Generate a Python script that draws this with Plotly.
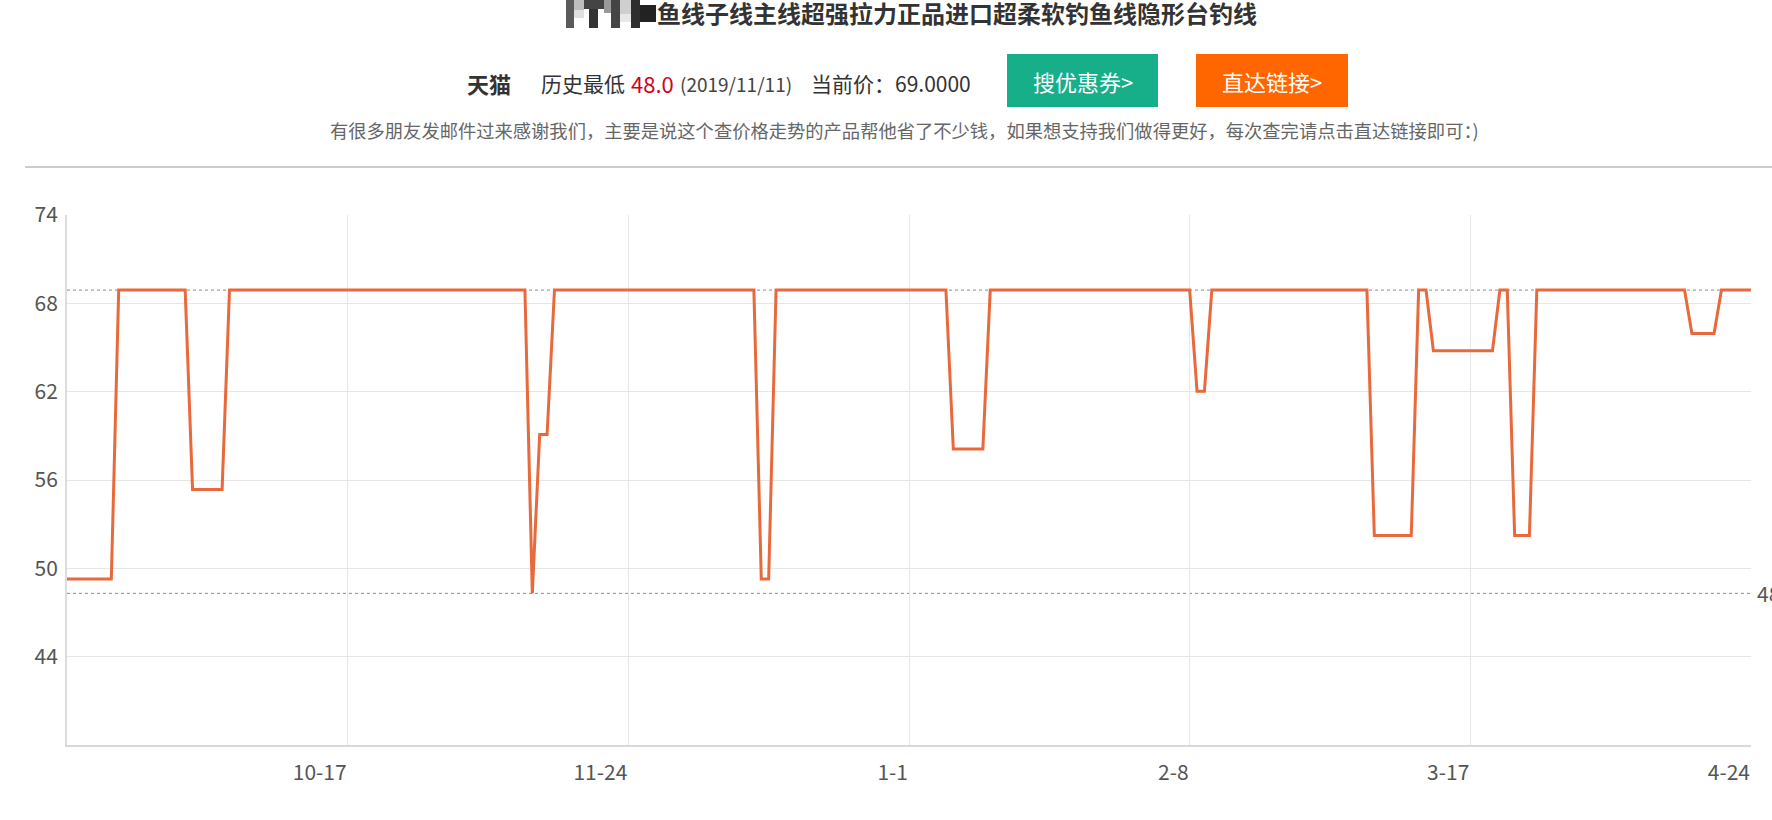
import pandas as pd
import plotly.graph_objects as go

# ---------------- data ----------------
start_date = "2019-09-09"
price_sep = [49, 49, 49, 49, 49, 49, 49,
             69, 69, 69, 69, 69, 69, 69, 69, 69, 69,
             55.2, 55.2, 55.2, 55.2, 55.2]
price_oct = [69, 69, 69, 69, 69, 69, 69, 69, 69, 69, 69, 69, 69, 69, 69, 69,
             69, 69, 69, 69, 69, 69, 69, 69, 69, 69, 69, 69, 69, 69, 69]
price_nov = [69, 69, 69, 69, 69, 69, 69, 69, 69, 69,
             48, 59, 59,
             69, 69, 69, 69, 69, 69, 69, 69, 69, 69, 69, 69, 69, 69, 69, 69, 69]
price_dec = [69, 69, 69, 69, 69, 69, 69, 69, 69, 69, 69,
             49, 49,
             69, 69, 69, 69, 69, 69, 69, 69, 69, 69, 69, 69, 69, 69, 69, 69, 69, 69]
price_jan = [69, 69, 69, 69, 69, 69,
             58, 58, 58, 58, 58,
             69, 69, 69, 69, 69, 69, 69, 69, 69, 69, 69, 69, 69, 69, 69, 69, 69, 69, 69, 69]
price_feb = [69, 69, 69, 69, 69, 69, 69, 69,
             62, 62,
             69, 69, 69, 69, 69, 69, 69, 69, 69, 69, 69, 69, 69, 69, 69, 69, 69, 69, 69]
price_mar = [69, 69, 69,
             52, 52, 52, 52, 52, 52,
             69, 69,
             64.8, 64.8, 64.8, 64.8, 64.8, 64.8, 64.8, 64.8, 64.8,
             69, 69,
             52, 52, 52,
             69, 69, 69, 69, 69, 69]
price_apr = [69, 69, 69, 69, 69, 69, 69, 69, 69, 69, 69, 69, 69, 69, 69,
             66, 66, 66, 66,
             69, 69, 69, 69, 69]

prices = price_sep + price_oct + price_nov + price_dec + price_jan + price_feb + price_mar + price_apr
dates = pd.date_range(start_date, periods=len(prices), freq="D")

x_tick_dates = ["2019-10-17", "2019-11-24", "2020-01-01", "2020-02-08", "2020-03-17", "2020-04-24"]
x_tick_labels = ["10-17", "11-24", "1-1", "2-8", "3-17", "4-24"]

y_min, y_max = 37.5, 74.2
y_tick_labels = ["44", "50", "56", "62", "68", "74"]

low_price = 48
high_price = 69

title_text = "鱼线子线主线超强拉力正品进口超柔软钓鱼线隐形台钓线"
shop = "天猫"
low_label = "历史最低"
low_value = "48.0"
low_date = "(2019/11/11)"
current_text = "当前价：69.0000"
btn1 = "搜优惠券>"
btn2 = "直达链接>"
note = "有很多朋友发邮件过来感谢我们，主要是说这个查价格走势的产品帮他省了不少钱，如果想支持我们做得更好，每次查完请点击直达链接即可：)"

# ---------------- layout helpers ----------------
W, H = 1772, 820
ML, MR, MT, MB = 67, 21, 215, 75
PW = W - ML - MR
PH = H - MT - MB
FONT = "Noto Sans CJK SC, Noto Sans, sans-serif"


def px(x):
    return (x - ML) / PW


def py(y):
    return (H - MB - y) / PH


step = (y_max - y_min) / 6
y_tick_vals = [y_min + step * (k + 1) for k in range(6)]

fig = go.Figure()
fig.add_trace(go.Scatter(
    x=dates, y=prices, mode="lines",
    line=dict(color="#e8693b", width=3),
    hoverinfo="x+y", showlegend=False,
))

# reference lines for max / min
for v in (high_price, low_price):
    fig.add_shape(type="line", xref="paper", x0=0, x1=1, yref="y", y0=v, y1=v,
                  line=dict(color="#8c8c8c", width=1, dash="3px,3px"), layer="below")

fig.add_annotation(x=1, xref="paper", y=low_price, yref="y", text=str(low_price),
                   showarrow=False, xanchor="left", yanchor="middle", xshift=4,
                   font=dict(size=21, color="#555", family=FONT))

shapes = []
# separator line
shapes.append(dict(type="line", xref="paper", yref="paper", x0=px(25), x1=px(1772),
                   y0=py(167), y1=py(167), line=dict(color="#cccccc", width=2)))
# buttons
shapes.append(dict(type="rect", xref="paper", yref="paper", x0=px(1007), x1=px(1158),
                   y0=py(107), y1=py(54), fillcolor="#17ae8a", line=dict(width=0)))
shapes.append(dict(type="rect", xref="paper", yref="paper", x0=px(1196), x1=px(1348),
                   y0=py(107), y1=py(54), fillcolor="#ff6600", line=dict(width=0)))
# pixelated (mosaic) part of the title
mosaic = [
    (566, 574, 0, 28, "#5a5a5a"), (574, 584, 0, 10, "#bdbdbd"), (584, 604, 0, 9, "#444"),
    (589, 598, 9, 28, "#333"), (604, 611, 0, 13, "#9a9a9a"), (611, 620, 0, 28, "#444"),
    (620, 631, 0, 14, "#cfcfcf"), (631, 640, 0, 28, "#2e2e2e"), (640, 656, 5, 22, "#222"),
    (574, 584, 10, 18, "#e0e0e0"), (620, 631, 14, 22, "#e8e8e8"),
]
for x0, x1, y0, y1, c in mosaic:
    shapes.append(dict(type="rect", xref="paper", yref="paper", x0=px(x0), x1=px(x1),
                       y0=py(y1), y1=py(y0), fillcolor=c, line=dict(width=0)))
for s in shapes:
    fig.add_shape(**s)


def text(xpx, ypx, t, size, color="#333", anchor="left", bold=False):
    if bold:
        t = "<b>" + t + "</b>"
    fig.add_annotation(x=px(xpx), y=py(ypx), xref="paper", yref="paper", text=t,
                       showarrow=False, xanchor=anchor, yanchor="middle",
                       font=dict(size=size, color=color, family=FONT))


text(957, 12, title_text, 24, "#333", "center", bold=True)
text(489, 83, shop, 22, "#333", "center", bold=True)
text(539, 83, low_label, 21, "#333")
text(629, 83, low_value, 22, "#d0021b")
text(678, 84, low_date, 19, "#444")
text(809, 83, current_text, 21, "#333")
text(1082.5, 81, btn1, 22, "#ffffff", "center")
text(1272, 81, btn2, 22, "#ffffff", "center")
text(904, 130, note, 18.3, "#666", "center")

fig.update_layout(
    width=W, height=H,
    margin=dict(l=ML, r=MR, t=MT, b=MB, pad=0),
    paper_bgcolor="white", plot_bgcolor="white",
    font=dict(family=FONT, color="#555"),
    xaxis=dict(
        type="date",
        range=[dates[0], dates[-1]],
        tickvals=x_tick_dates, ticktext=x_tick_labels,
        ticklabelposition="outside left",
        ticks="", ticklabelstandoff=8,
        tickfont=dict(size=21, color="#555", family=FONT),
        showgrid=True, gridcolor="#e6e6e6", gridwidth=1,
        showline=True, linecolor="#d9d9d9", linewidth=2,
        zeroline=False, fixedrange=True,
    ),
    yaxis=dict(
        range=[y_min, y_max + 1e-6],
        tickvals=y_tick_vals, ticktext=y_tick_labels,
        ticks="outside", ticklen=3, tickcolor="rgba(0,0,0,0)",
        tickfont=dict(size=21, color="#555", family=FONT),
        showgrid=True, gridcolor="#e6e6e6", gridwidth=1,
        showline=True, linecolor="#dcdcdc", linewidth=2,
        zeroline=False, fixedrange=True,
    ),
)

fig.write_html("out.html", config={"displayModeBar": False},
               post_script="document.body.style.margin='0px';")
